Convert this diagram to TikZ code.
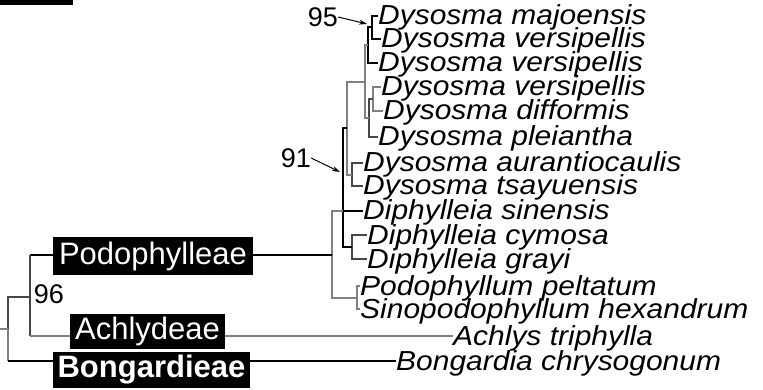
\documentclass[tikz,border=0pt]{standalone}
\usepackage{fontspec}
\usepackage{graphicx}
\setmainfont{Liberation Sans}
\usetikzlibrary{arrows.meta}
\newcommand{\taxonname}[1]{\scalebox{1.09}[1]{#1}}
\tikzset{
  taxonlbl/.style={anchor=base west, inner sep=0pt, text height=20pt, text depth=2pt,
    font=\fontsize{27.5}{27.5}\selectfont\itshape},
  tribebox/.style={fill=black, text=white, inner sep=0pt, font=\fontsize{31}{31}\selectfont},
  supportlbl/.style={inner sep=0pt, font=\fontsize{27}{27}\selectfont},
  blackline/.style={draw=black, line width=1.3pt},
  greyline/.style={draw=black!50, line width=1.3pt},
  darkline/.style={draw=black!72, line width=1.3pt},
  pointer/.style={draw=black, line width=1pt, -{Stealth[length=8pt,width=5pt]}}
}
\begin{document}
\begin{tikzpicture}[x=1pt,y=-1pt]
\useasboundingbox (0,0) rectangle (763,390);
\fill[black] (0,0) rectangle (73,5);
% taxa
\node[taxonlbl] (t1) at (378,25) {\taxonname{Dysosma majoensis}};
\node[taxonlbl] (t2) at (381,48) {\taxonname{Dysosma versipellis}};
\node[taxonlbl] (t3) at (378,72) {\taxonname{Dysosma versipellis}};
\node[taxonlbl] (t4) at (381,96) {\taxonname{Dysosma versipellis}};
\node[taxonlbl] (t5) at (383,120) {\taxonname{Dysosma difformis}};
\node[taxonlbl] (t6) at (378,146) {\taxonname{Dysosma pleiantha}};
\node[taxonlbl] (t7) at (363,172) {\taxonname{Dysosma aurantiocaulis}};
\node[taxonlbl] (t8) at (363,195) {\taxonname{Dysosma tsayuensis}};
\node[taxonlbl] (t9) at (363,220) {\taxonname{Diphylleia sinensis}};
\node[taxonlbl] (t10) at (367,244) {\taxonname{Diphylleia cymosa}};
\node[taxonlbl] (t11) at (367,268) {\taxonname{Diphylleia grayi}};
\node[taxonlbl] (t12) at (360,295) {\taxonname{Podophyllum peltatum}};
\node[taxonlbl] (t13) at (360,318) {\taxonname{Sinopodophyllum hexandrum}};
\node[taxonlbl] (t14) at (453,345) {\taxonname{Achlys triphylla}};
\node[taxonlbl] (t15) at (396,370) {\taxonname{Bongardia chrysogonum}};
% internal nodes
\coordinate (A) at (372,27);
\coordinate (B) at (368,45);
\coordinate (D) at (373,99);
\coordinate (E) at (369,118);
\coordinate (C) at (365,82);
\coordinate (I) at (352,175);
\coordinate (F) at (347,128);
\coordinate (J) at (352,247);
\coordinate (G) at (343,211);
\coordinate (K) at (357,298);
\coordinate (H) at (332,255);
\coordinate (R1) at (30,297);
\coordinate (R0) at (8,329);
\coordinate (root) at (0,329);
% branches
\draw[blackline] (t1.west) -| (A) |- (t2.west);
\draw[blackline] (A) -| (B) |- (t3.west);
\draw[greyline] (t4.west) -| (D) |- (t5.west);
\draw[darkline] (D) -| (E) |- (t6.west);
\draw[greyline] (B) -| (C) |- (E);
\draw[darkline] (t7.west) -| (I) |- (t8.west);
\draw[greyline] (C) -| (F) |- (I);
\draw[darkline] (t10.west) -| (J) |- (t11.west);
\draw[blackline] (F) -| (G) |- (J);
\draw[blackline] (G) -- (t9.west);
\draw[greyline] (t12.west) -| (K) |- (t13.west);
\draw[greyline] (G) -| (H) |- (K);
\draw[blackline] (H) -- (H -| R1);
\draw[darkline] (H -| R1) -- (R1) |- (t14.west -| R1);
\draw[greyline] (t14.west -| R1) -- (t14.west);
\draw[darkline] (R1) -| (R0);
\draw[greyline] (R0) |- (t15.west -| R0);
\draw[blackline] (t15.west -| R0) -- (t15.west);
\draw[greyline] (root) -- (R0);
% tribe boxes
\node[tribebox, minimum width=200pt, minimum height=38pt] (pod) at (153,256) {Podophylleae};
\node[tribebox, minimum width=155pt, minimum height=35pt] (ach) at (147.5,331.5) {Achlydeae};
\node[tribebox, minimum width=197pt, minimum height=36pt, font=\fontsize{31}{31}\selectfont\bfseries] (bong) at (151.5,370) {Bongardieae};
% support values
\node[supportlbl] (n95) at (323,17) {95};
\node[supportlbl] (n91) at (296,158) {91};
\node[supportlbl] (n96) at (49,294) {96};
\coordinate (p95) at (367,24);
\coordinate (p91) at (340,172);
\draw[pointer] (n95.east) -- (p95);
\draw[pointer] (n91.east) -- (p91);
\end{tikzpicture}
\end{document}
